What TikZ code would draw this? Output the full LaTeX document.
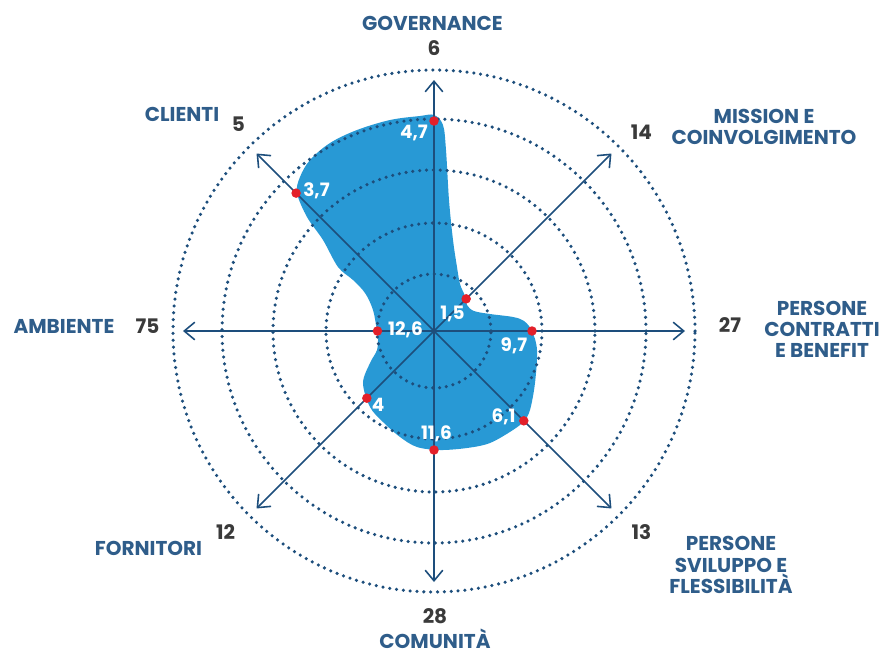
\documentclass[tikz,border=0pt]{standalone}
\usepackage{fontspec}
\setmainfont{Poppins}
\usetikzlibrary{arrows.meta}

\definecolor{navy}{HTML}{1D4E7C}
\definecolor{catblue}{HTML}{2F5D8A}
\definecolor{blobblue}{HTML}{2899D5}
\definecolor{dotred}{HTML}{E3202A}
\definecolor{numgray}{HTML}{3A3A3A}

\tikzset{
  ring/.style={navy, line width=2pt, dash pattern=on 0pt off 3.9pt, line cap=round},
  spoke/.style={navy, line width=0.9pt, -{Straight Barb[length=6pt,width=10pt]}},
  cat/.style={catblue, font=\fontsize{11.4}{12}\selectfont\bfseries, align=center},
  maxval/.style={numgray, font=\fontsize{11.4}{12}\selectfont\bfseries},
  val/.style={white, font=\fontsize{10.5}{12}\selectfont\bfseries},
  reddot/.style={circle, fill=dotred, inner sep=0pt, minimum size=0.19cm}
}

\begin{document}
\begin{tikzpicture}
    \useasboundingbox (-8.68,-6.42) rectangle (8.90,6.62);
    % area
    \fill[blobblue] plot[smooth cycle, tension=0.55] coordinates {
      (0,4.32) (0.18,4.12) (0.24,3.62) (0.30,2.62) (0.38,1.82) (0.46,1.28)
      (0.52,0.94) (0.62,0.70) (0.66,0.52) (0.80,0.40) (1.12,0.34) (1.58,0.28)
      (1.80,0.20) (1.96,0) (2.06,-0.38) (2.02,-1.04) (1.92,-1.58) (1.80,-1.80)
      (1.58,-1.98) (1.12,-2.24) (0.66,-2.34) (0.12,-2.38) (-0.34,-2.32)
      (-0.68,-2.12) (-1.02,-1.82) (-1.28,-1.52) (-1.42,-1.04) (-1.28,-0.64)
      (-1.14,-0.38) (-1.12,-0.12) (-1.14,0) (-1.22,0.42) (-1.38,0.76)
      (-1.62,1.02) (-1.92,1.28) (-2.22,1.82) (-2.54,2.28) (-2.74,2.76)
      (-2.68,3.08) (-2.48,3.42) (-2.08,3.76) (-1.54,4.02) (-0.88,4.22)
      (-0.28,4.30)};
    % rings
    \draw[ring] (0,0) circle (1.14);
    \draw[ring] (0,0) circle (2.16);
    \draw[ring] (0,0) circle (3.22);
    \draw[ring] (0,0) circle (4.24);
    \draw[ring] (0,0) circle (5.22);
    % spokes
    \coordinate (c)    at (0,0);
    \coordinate (gov)  at ( 90:5.02);
    \coordinate (mis)  at ( 45:5.02);
    \coordinate (pcb)  at (  0:5.02);
    \coordinate (psf)  at (-45:5.02);
    \coordinate (com)  at (-90:5.02);
    \coordinate (for)  at (225:5.02);
    \coordinate (amb)  at (180:5.02);
    \coordinate (cli)  at (135:5.02);
    \draw[spoke] (c) -- (gov);
    \draw[spoke] (c) -- (mis);
    \draw[spoke] (c) -- (pcb);
    \draw[spoke] (c) -- (psf);
    \draw[spoke] (c) -- (com);
    \draw[spoke] (c) -- (for);
    \draw[spoke] (c) -- (amb);
    \draw[spoke] (c) -- (cli);
    % data points
    \node[reddot] (dgov) at ( 90:4.20) {};
    \node[reddot] (dmis) at ( 45:0.91) {};
    \node[reddot] (dpcb) at (  0:1.96) {};
    \node[reddot] (dpsf) at (-45:2.54) {};
    \node[reddot] (dcom) at (-90:2.38) {};
    \node[reddot] (dfor) at (225:1.90) {};
    \node[reddot] (damb) at (180:1.13) {};
    \node[reddot] (dcli) at (135:3.90) {};
    % values
    \node[val] (vgov) at (-0.40, 3.96) {4,7};
    \node[val] (vcli) at (-2.35, 2.80) {3,7};
    \node[val] (vmis) at ( 0.37, 0.34) {1,5};
    \node[val] (vamb) at (-0.57, 0.02) {12,6};
    \node[val] (vpcb) at ( 1.60,-0.29) {9,7};
    \node[val] (vfor) at (-1.12,-1.47) {4};
    \node[val] (vpsf) at ( 1.39,-1.71) {6,1};
    \node[val] (vcom) at ( 0.05,-2.05) {11,6};
    % maximum values
    \node[maxval] (mgov) at ( 0.00, 5.65) {6};
    \node[maxval] (mcli) at (-3.91, 4.13) {5};
    \node[maxval] (mmis) at ( 4.15, 3.97) {14};
    \node[maxval] (mpcb) at ( 5.92, 0.11) {27};
    \node[maxval] (mamb) at (-5.73, 0.09) {75};
    \node[maxval] (mfor) at (-4.17,-4.03) {12};
    \node[maxval] (mpsf) at ( 4.15,-4.03) {13};
    \node[maxval] (mcom) at ( 0.02,-5.70) {28};
    % categories
    \node[cat] (lgov) at (-0.03, 6.15) {GOVERNANCE};
    \node[cat] (lcli) at (-5.04, 4.33) {CLIENTI};
    \node[cat] (lmis) at ( 6.60, 4.09) {MISSION E\\COINVOLGIMENTO};
    \node[cat] (lpcb) at ( 7.76, 0.04) {PERSONE\\CONTRATTI\\E BENEFIT};
    \node[cat] (lamb) at (-7.40, 0.10) {AMBIENTE};
    \node[cat] (lfor) at (-5.71,-4.34) {FORNITORI};
    \node[cat] (lpsf) at ( 5.94,-4.68) {PERSONE\\SVILUPPO E\\FLESSIBILITÀ};
    \node[cat,inner sep=0pt] (lcom) at ( 0.02,-6.16) {COMUNITÀ};
\end{tikzpicture}
\end{document}
